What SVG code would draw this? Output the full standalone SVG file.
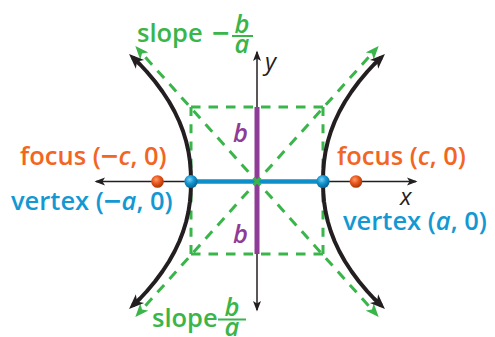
<svg xmlns="http://www.w3.org/2000/svg" width="495" height="337" viewBox="0 0 495 337">
<style>
.lbl{font-family:"Open Sans","Noto Sans",sans-serif;font-weight:600;font-size:25.5px}
.it{font-style:italic}
.mn{font-size:31px}
.orange{fill:#f26522}
.blue{fill:#1398d3}
.green{fill:#39b54a}
.purple{fill:#8e3c97}
.dash{fill:none;stroke:#39b54a;stroke-width:3}
.axis{stroke:#231f20;stroke-width:1.5;fill:none}
.hyp{stroke:#231f20;stroke-width:4;fill:none;stroke-linejoin:round}
</style>
<defs>
<marker id="ah" viewBox="0 0 16 14" markerWidth="16" markerHeight="14" refX="10" refY="7" orient="auto-start-reverse" markerUnits="userSpaceOnUse"><path d="M0,1 L15,7 L0,13 L4,7 z" fill="#231f20"/></marker>
<marker id="ag" viewBox="0 0 14 12" markerWidth="14" markerHeight="12" refX="8" refY="6" orient="auto-start-reverse" markerUnits="userSpaceOnUse"><path d="M0,0.5 L13.5,6 L0,11.5 L3.5,6 z" fill="#39b54a"/></marker>
<marker id="ax" viewBox="0 0 11 9" markerWidth="11" markerHeight="9" refX="9" refY="4.5" orient="auto-start-reverse" markerUnits="userSpaceOnUse"><path d="M0,0.5 L10.5,4.5 L0,8.5 L2.5,4.5 z" fill="#231f20"/></marker>
<radialGradient id="go" cx="0.4" cy="0.35" r="0.65"><stop offset="0" stop-color="#ff9a6a"/><stop offset="0.5" stop-color="#e8561a"/><stop offset="1" stop-color="#a8360a"/></radialGradient>
<radialGradient id="gb" cx="0.4" cy="0.35" r="0.65"><stop offset="0" stop-color="#7fd0f2"/><stop offset="0.5" stop-color="#1195d0"/><stop offset="1" stop-color="#0a6594"/></radialGradient>
</defs>

<g id="connectors">
  <!-- asymptote box -->
  <line class="dash" x1="191" y1="107" x2="323" y2="107" stroke-dasharray="9.5 8"/>
  <line class="dash" x1="191" y1="254" x2="323" y2="254" stroke-dasharray="9.5 8"/>
  <line class="dash" x1="191" y1="107" x2="191" y2="254" stroke-dasharray="9 8.25"/>
  <line class="dash" x1="323" y1="107" x2="323" y2="254" stroke-dasharray="9 8.25"/>
  <!-- axes -->
  <line id="x-axis" class="axis" x1="96" y1="181.5" x2="416" y2="181.5" marker-start="url(#ax)" marker-end="url(#ax)"/>
  <line id="y-axis" class="axis" x1="257" y1="52" x2="257" y2="310" marker-start="url(#ax)" marker-end="url(#ax)"/>
  <!-- b segments and a segment -->
  <line x1="257" y1="107" x2="257" y2="254" stroke="#8e3c97" stroke-width="5"/>
  <line x1="191" y1="181.5" x2="323" y2="181.5" stroke="#0f8fca" stroke-width="4.5"/>
  <!-- asymptotes -->
  <line class="dash" x1="139" y1="50.1" x2="375" y2="312.9" stroke-dasharray="10 8" stroke-dashoffset="8.4" marker-start="url(#ag)" marker-end="url(#ag)"/>
  <line class="dash" x1="375" y1="50.1" x2="139" y2="312.9" stroke-dasharray="10 8" stroke-dashoffset="8.4" marker-start="url(#ag)" marker-end="url(#ag)"/>
  <!-- hyperbola branches -->
  <path id="right-branch" class="hyp" marker-start="url(#ah)" marker-end="url(#ah)" d="M381.3,57.5 L373.9,64.5 L367.4,71.5 L359,81.5 L351.6,91.5 L345.05,101.5 L339.45,111.5 L334.72,121.5 L330.86,131.5 L327.8,141.5 L325.54,151.5 L324.04,161.5 L323.23,171.5 L323,181.5 L323.23,191.5 L324.04,201.5 L325.54,211.5 L327.8,221.5 L330.86,231.5 L334.72,241.5 L339.45,251.5 L345.05,261.5 L351.6,271.5 L359,281.5 L367.4,291.5 L373.9,298.5 L381.3,305.5"/>
  <path id="left-branch" class="hyp" marker-start="url(#ah)" marker-end="url(#ah)" d="M132.7,57.5 L140.1,64.5 L146.6,71.5 L155,81.5 L162.4,91.5 L168.95,101.5 L174.55,111.5 L179.28,121.5 L183.14,131.5 L186.2,141.5 L188.46,151.5 L189.96,161.5 L190.77,171.5 L191,181.5 L190.77,191.5 L189.96,201.5 L188.46,211.5 L186.2,221.5 L183.14,231.5 L179.28,241.5 L174.55,251.5 L168.95,261.5 L162.4,271.5 L155,281.5 L146.6,291.5 L140.1,298.5 L132.7,305.5"/>
</g>

<g id="focus-left"><circle cx="157.5" cy="181.5" r="6.3" fill="url(#go)"/></g>
<g id="focus-right"><circle cx="356" cy="181.5" r="6.3" fill="url(#go)"/></g>
<g id="vertex-left"><circle cx="191" cy="181.5" r="6.6" fill="url(#gb)"/></g>
<g id="vertex-right"><circle cx="323" cy="181.5" r="6.6" fill="url(#gb)"/></g>

<g id="labels">
  <text class="lbl orange" x="20" y="165">focus (<tspan class="mn" dy="2">−</tspan><tspan class="it" dy="-2">c</tspan>, 0)</text>
  <text class="lbl blue" x="11" y="210">vertex (<tspan class="mn" dy="2">−</tspan><tspan class="it" dy="-2">a</tspan>, 0)</text>
  <text class="lbl orange" x="337" y="165">focus (<tspan class="it">c</tspan>, 0)</text>
  <text class="lbl blue" x="343" y="230">vertex (<tspan class="it">a</tspan>, 0)</text>
  <text class="lbl purple it" x="233" y="142" font-size="26">b</text>
  <text class="lbl purple it" x="233" y="243" font-size="26">b</text>
  <text x="400" y="205" font-family="Open Sans, sans-serif" font-style="italic" font-size="24" fill="#231f20">x</text>
  <text x="265" y="70" font-family="Open Sans, sans-serif" font-style="italic" font-size="24" fill="#231f20">y</text>
  <!-- slope -b/a -->
  <text class="lbl green" x="137" y="42">slope</text>
  <text class="lbl green mn" x="212" y="44">−</text>
  <text class="lbl green it" x="242" y="33" font-size="21" text-anchor="middle">b</text>
  <line x1="232" y1="36" x2="253" y2="36" stroke="#39b54a" stroke-width="2"/>
  <text class="lbl green it" x="242" y="53" font-size="21" text-anchor="middle">a</text>
  <!-- slope b/a -->
  <text class="lbl green" x="152" y="327">slope</text>
  <text class="lbl green it" x="232" y="316" font-size="21" text-anchor="middle">b</text>
  <line x1="218" y1="319.5" x2="246" y2="319.5" stroke="#39b54a" stroke-width="2"/>
  <text class="lbl green it" x="232" y="335.5" font-size="21" text-anchor="middle">a</text>
</g>
</svg>
